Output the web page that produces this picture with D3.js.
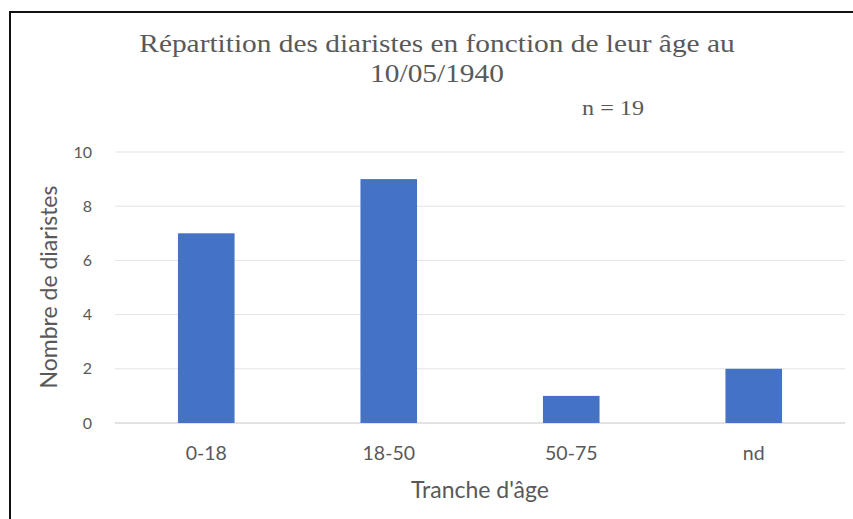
<!DOCTYPE html>
<html lang="fr">
<head>
  <meta charset="UTF-8">
  <title>Répartition des diaristes</title>
  <script src="https://d3js.org/d3.v7.min.js"></script>
  <style>
    body { margin: 0; padding: 0; background: #fff; }
    svg { display: block; }
    .tick text { fill: #595959; }
  </style>
</head>
<body>
<div id="chart"></div>
<script>
// data
const categories = ["0-18", "18-50", "50-75", "nd"];
const counts = [7, 9, 1, 2];
const yTicks = [0, 2, 4, 6, 8, 10];
const titleLines = ["Répartition des diaristes en fonction de leur âge au", "10/05/1940"];
const note = "n = 19";

const W = 853, H = 519;
const plot = {left: 115, right: 845, top: 152, bottom: 423};
const sans = "Lato, 'Open Sans', sans-serif";
const serif = "'Liberation Serif', 'DejaVu Serif', serif";

const svg = d3.select("#chart").append("svg")
    .attr("width", W)
    .attr("height", H);

// frame (top + left edges visible)
svg.append("line").attr("x1", 9).attr("x2", W).attr("y1", 12).attr("y2", 12)
    .attr("stroke", "#111").attr("stroke-width", 2);
svg.append("line").attr("x1", 10).attr("x2", 10).attr("y1", 12).attr("y2", H)
    .attr("stroke", "#111").attr("stroke-width", 2);

const x = d3.scaleBand().domain(categories).range([plot.left, plot.right]).padding(0);
const y = d3.scaleLinear().domain([0, 10]).range([plot.bottom, plot.top]);

// gridlines
svg.append("g")
    .selectAll("line")
    .data(yTicks)
    .enter().append("line")
    .attr("x1", plot.left).attr("x2", plot.right)
    .attr("y1", d => y(d)).attr("y2", d => y(d))
    .attr("stroke", d => d === 0 ? "#d9d9d9" : "#e3e3e3")
    .attr("stroke-width", d => d === 0 ? 1.5 : 1);

// bars
const barW = x.bandwidth() * 0.31;
svg.append("g")
    .selectAll("rect")
    .data(counts)
    .enter().append("rect")
    .attr("x", (d, i) => x(categories[i]) + (x.bandwidth() - barW) / 2)
    .attr("y", d => y(d))
    .attr("width", barW)
    .attr("height", d => y(0) - y(d))
    .attr("fill", "#4472c4");

// y axis labels
const yAxis = svg.append("g")
    .attr("transform", `translate(${plot.left - 23},0)`)
    .call(d3.axisLeft(y).tickValues(yTicks).tickSize(0).tickPadding(0));
yAxis.select(".domain").remove();
yAxis.selectAll("text")
    .attr("font-family", sans)
    .attr("font-size", 16);

// x axis labels
const xAxis = svg.append("g")
    .attr("transform", `translate(0,${plot.bottom + 23})`)
    .call(d3.axisBottom(x).tickSize(0).tickPadding(0));
xAxis.select(".domain").remove();
xAxis.selectAll("text")
    .attr("font-family", sans)
    .attr("font-size", 19.5)
    .attr("dy", "0.71em");

// axis titles
svg.append("text")
    .attr("x", (plot.left + plot.right) / 2)
    .attr("y", 498)
    .attr("text-anchor", "middle")
    .attr("font-family", sans)
    .attr("font-size", 23)
    .attr("fill", "#595959")
    .text("Tranche d'âge");

svg.append("text")
    .attr("transform", "translate(57,287) rotate(-90)")
    .attr("text-anchor", "middle")
    .attr("font-family", sans)
    .attr("font-size", 23)
    .attr("fill", "#595959")
    .text("Nombre de diaristes");

// title (source picture is stretched a little horizontally)
svg.append("g")
    .selectAll("text")
    .data(titleLines)
    .enter().append("text")
    .attr("transform", (d, i) => `translate(437,${52 + i * 30}) scale(1.13,1)`)
    .attr("text-anchor", "middle")
    .attr("font-family", serif)
    .attr("font-size", 26)
    .attr("fill", "#595959")
    .text(d => d);

svg.append("text")
    .attr("transform", "translate(613,115) scale(1.1,1)")
    .attr("text-anchor", "middle")
    .attr("font-family", serif)
    .attr("font-size", 22)
    .attr("fill", "#595959")
    .text(note);
</script>
</body>
</html>
